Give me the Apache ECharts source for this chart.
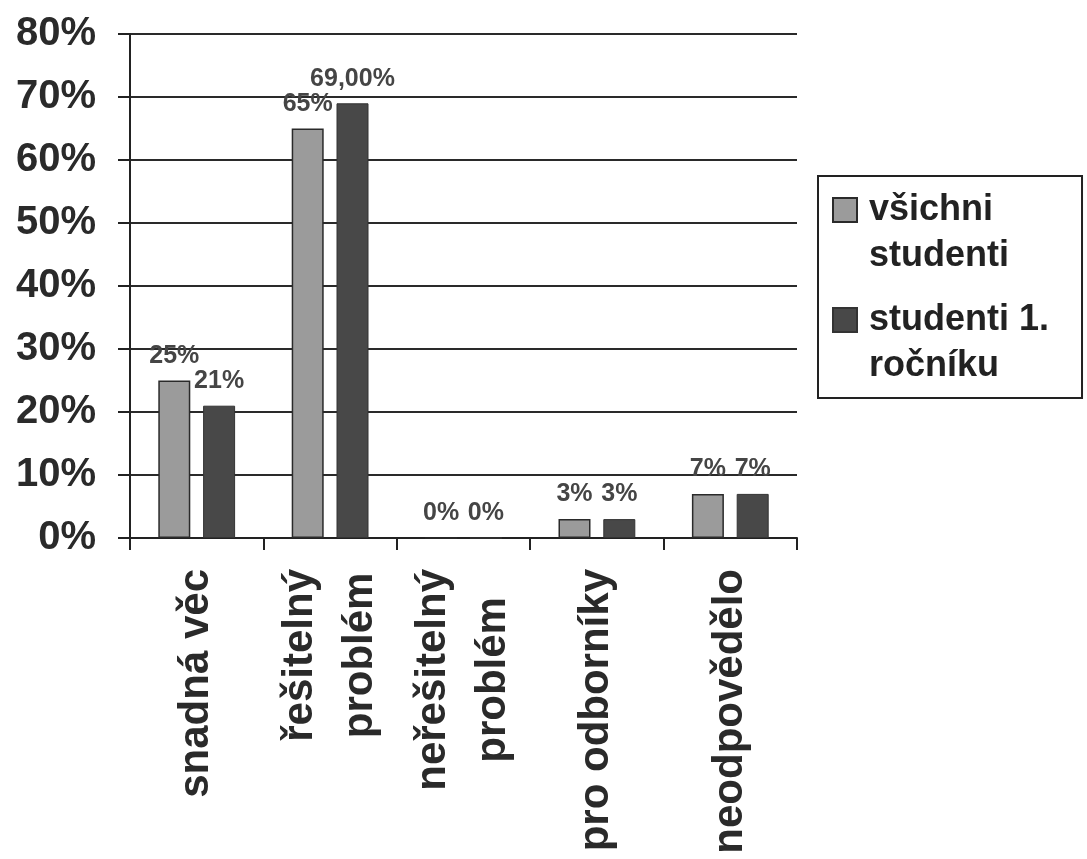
<!DOCTYPE html>
<html>
<head>
<meta charset="utf-8">
<script src="https://cdn.jsdelivr.net/npm/echarts@6/dist/echarts.min.js"></script>
<style>
  html, body { margin: 0; padding: 0; background: #fff; }
  #main { width: 1087px; height: 859px; }
</style>
</head>
<body>
<div id="main"></div>
<script>
  // data
  var categories = ['snadná věc', 'řešitelný\nproblém', 'neřešitelný\nproblém', 'pro odborníky', 'neodpovědělo'];
  var seriesNames = ['všichni\nstudenti', 'studenti 1.\nročníku'];
  var allStudents = [25, 65, 0, 3, 7];
  var firstYear = [21, 69, 0, 3, 7];
  var allLabels = ['25%', '65%', '0%', '3%', '7%'];
  var firstLabels = ['21%', '69,00%', '0%', '3%', '7%'];

  var font = "'Liberation Sans', Arial, sans-serif";
  var ink = '#2a2a2a';

  var myChart = echarts.init(document.getElementById('main'));

  function barLabel(texts) {
    return {
      show: true,
      position: 'top',
      distance: 12,
      fontFamily: font,
      fontSize: 25,
      fontWeight: 'bold',
      color: '#454545',
      formatter: function (p) { return texts[p.dataIndex]; }
    };
  }

  myChart.setOption({
    backgroundColor: '#fff',
    animation: false,
    grid: { left: 130, right: 290, top: 34, bottom: 321, outerBoundsMode: 'none' },
    legend: {
      orient: 'vertical',
      left: 818,
      top: 176,
      selectedMode: false,
      // square sits on the first line of each two-line name
      icon: 'path://M0,0M0,11h24v24h-24zM24,92',
      itemWidth: 24,
      itemHeight: 92,
      itemGap: 16,
      padding: [10, 33, 8, 14],
      borderColor: '#222',
      borderWidth: 2,
      textStyle: { fontFamily: font, fontSize: 36, fontWeight: 'bold', lineHeight: 46, color: '#222', padding: [0, 0, 0, 7] },
      data: seriesNames
    },
    xAxis: {
      type: 'category',
      data: categories,
      axisLine: { lineStyle: { color: '#222', width: 2 } },
      axisTick: { show: true, length: 12, interval: 0, lineStyle: { color: '#222', width: 2 } },
      axisLabel: {
        interval: 0,
        rotate: 90,
        margin: 31,
        formatter: function (v) {
          return v.split('\n').map(function (s) { return '{c|' + s + '}'; }).join('\n');
        },
        rich: {
          c: { fontFamily: font, fontSize: 42, fontWeight: 'bold', color: ink, lineHeight: 60, align: 'center' }
        }
      }
    },
    yAxis: {
      type: 'value',
      min: 0,
      max: 80,
      interval: 10,
      axisLine: { show: true, lineStyle: { color: '#222', width: 2 } },
      axisTick: { show: true, length: 12, lineStyle: { color: '#222', width: 2 } },
      axisLabel: { formatter: '{value}%', margin: 34, fontFamily: font, fontSize: 40, fontWeight: 'bold', color: ink },
      splitLine: { lineStyle: { color: '#2a2a2a', width: 2 } }
    },
    series: [{
      name: seriesNames[0],
      type: 'bar',
      barWidth: 32,
      barGap: '40%',
      data: allStudents,
      itemStyle: { color: '#9b9b9b', borderColor: '#2a2a2a', borderWidth: 1.5 },
      label: barLabel(allLabels)
    }, {
      name: seriesNames[1],
      type: 'bar',
      barWidth: 32,
      data: firstYear,
      itemStyle: { color: '#484848', borderColor: '#333', borderWidth: 1 },
      label: barLabel(firstLabels)
    }]
  });
</script>
</body>
</html>
